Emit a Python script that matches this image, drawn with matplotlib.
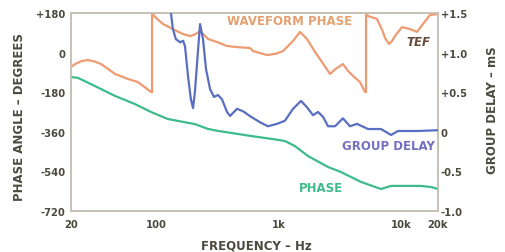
import matplotlib
matplotlib.use("Agg")
import matplotlib.pyplot as plt
import numpy as np

plt.rcParams['font.family'] = ['DejaVu Sans']

# ---- data ----
x_ticks = [20, 100, 1000, 10000, 20000]
x_tick_labels = ["20", "100", "1k", "10k", "20k"]
phase_ticks = [180, 0, -180, -360, -540, -720]
phase_tick_labels = ["+180", "0", "-180", "-360", "-540", "-720"]
gd_ticks = [1.5, 1.0, 0.5, 0, -0.5, -1.0]
gd_tick_labels = ["+1.5", "+1.0", "+0.5", "0", "-0.5", "-1.0"]

# waveform phase (wrapped, with the vertical wrap jumps)
wf_freq = [20, 21.6, 24.5, 27.5, 31, 35.2, 45.8, 58.5, 70.6, 90.2, 92, 92, 97.2, 113, 136, 165,
           188, 205, 227, 240, 264, 312, 377, 455, 581, 615, 800, 950, 1082, 1306, 1490, 1698,
           1976, 2254, 2620, 2900, 3162, 3340, 3700, 4036, 4605, 5060, 5160, 5160, 5360, 6340,
           7100, 7380, 7960, 8420, 8900, 10160, 11800, 13460, 15080, 17200, 20000]
wf_phase = [-65, -52, -38, -34, -40, -52, -97, -120, -134, -179, -180, 180, 162, 130, 107, 84,
            75, 82, 98, 85, 62, 48, 30, 25, 21, 7, -11, -5, 7, 53, 94, 62,
            3, -43, -97, -75, -61, -52, -85, -106, -134, -179, -180, 180, 166, 153,
            94, 66, 39, 53, 75, 116, 107, 94, 130, 171, 175]

# group delay (ms)
gd_freq = [124, 131, 136, 144, 156, 165, 171, 181, 191, 199, 206, 218, 227, 240,
           254, 274, 295, 318, 343, 377, 399, 455, 509, 592, 702, 815, 966, 1122,
           1306, 1518, 1698, 1902, 2090, 2296, 2524, 2878, 3340, 3816, 4356, 5360,
           6840, 8260, 9420, 13740, 20000]
gd_ms = [1.62, 1.51, 1.30, 1.17, 1.13, 1.15, 1.08, 0.70, 0.41, 0.30, 0.50, 1.01, 1.36, 1.17,
         0.79, 0.54, 0.44, 0.465, 0.41, 0.25, 0.20, 0.29, 0.26, 0.19, 0.12, 0.07, 0.10, 0.14,
         0.29, 0.39, 0.31, 0.21, 0.25, 0.19, 0.07, 0.07, 0.17, 0.07, 0.10, 0.035,
         0.035, -0.04, 0.01, 0.01, 0.02]

# phase (unwrapped, degrees)
ph_freq = [20, 22.8, 31.4, 45.8, 66.7, 90.2, 124, 206, 264, 318, 592, 1000, 1122, 1356,
           1730, 2524, 3220, 4700, 6840, 8260, 10740, 14520, 17540, 20000]
ph_deg = [-111, -115, -152, -197, -234, -270, -302, -325, -347, -356, -379, -397, -402, -425,
          -470, -520, -543, -588, -620, -606, -606, -606, -611, -620]

# ---- style ----
txt = "#4a4a3e"
spine_c = "#c8c2b4"
orange = "#EE9B72"
blue = "#5A6EC2"
green = "#3DBB8A"

fig = plt.figure(figsize=(5.05, 2.53), dpi=100)
ax = fig.add_axes([71/505, 1-212/253, (438-71)/505, (212-14)/253])
ax2 = ax.twinx()

ax.plot(wf_freq, wf_phase, color=orange, lw=1.6, solid_joinstyle='round', zorder=3)
ax.plot(ph_freq, ph_deg, color=green, lw=1.6, solid_joinstyle='round', zorder=3)
ax2.plot(gd_freq, gd_ms, color=blue, lw=1.6, solid_joinstyle='round', zorder=3)

ax.set_xscale('log')
ax.set_xlim(20, 20000)
ax.set_ylim(-720, 180)
ax2.set_ylim(-1.0, 1.5)

ax.set_xticks(x_ticks)
ax.set_xticklabels(x_tick_labels)
ax.xaxis.set_minor_locator(matplotlib.ticker.NullLocator())
ax.set_yticks(phase_ticks)
ax.set_yticklabels(phase_tick_labels)
ax2.set_yticks(gd_ticks)
ax2.set_yticklabels(gd_tick_labels)

for a in (ax, ax2):
    for s in a.spines.values():
        s.set_color(spine_c)
        s.set_linewidth(1.2)
    a.tick_params(length=0, labelsize=7.2, labelcolor=txt)
    for lab in a.get_xticklabels() + a.get_yticklabels():
        lab.set_fontweight('bold')
ax.tick_params(axis='y', pad=4)
ax.tick_params(axis='x', pad=6)
ax2.tick_params(axis='y', pad=2)

fig.text(20/505, 1-117/253, "PHASE ANGLE \u2013 DEGREES", rotation=90, ha='center', va='center',
         fontsize=8.5, fontweight='bold', color=txt)
fig.text(492/505, 1-110/253, "GROUP DELAY \u2013 mS", rotation=90, ha='center', va='center',
         fontsize=8.5, fontweight='bold', color=txt)
fig.text(256/505, 1-246/253, "FREQUENCY \u2013 Hz", ha='center', va='center',
         fontsize=8.5, fontweight='bold', color=txt)

fig.text(290/505, 1-22/253, "WAVEFORM PHASE", ha='center', va='center',
         fontsize=8.5, fontweight='bold', color="#E5A070")
fig.text(418/505, 1-42.5/253, "TEF", ha='center', va='center',
         fontsize=8.5, fontweight='bold', style='italic', color="#6a4a3a")
fig.text(388/505, 1-146/253, "GROUP DELAY", ha='center', va='center',
         fontsize=8.5, fontweight='bold', color="#7470C0")
fig.text(321/505, 1-188/253, "PHASE", ha='center', va='center',
         fontsize=8.5, fontweight='bold', color=green)

fig.savefig("out.png", dpi=100)
